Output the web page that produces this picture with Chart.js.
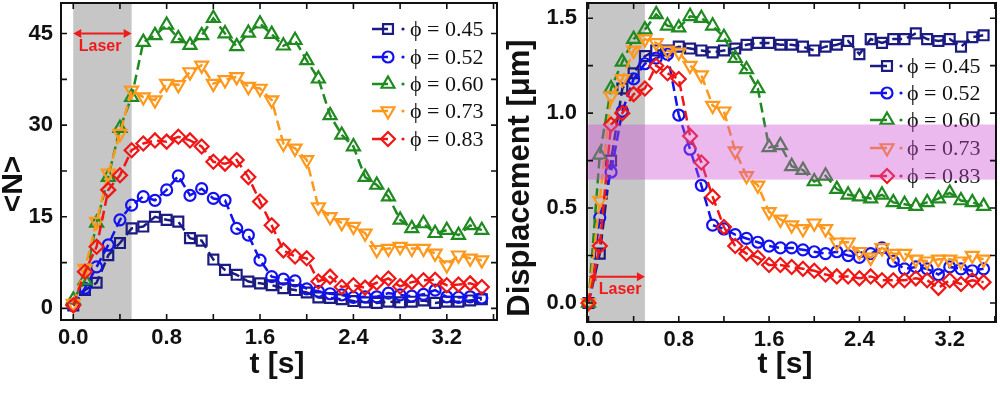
<!DOCTYPE html>
<html>
<head>
<meta charset="utf-8">
<script src="https://cdn.jsdelivr.net/npm/chart.js@4.4.1/dist/chart.umd.min.js"></script>
<style>
  html, body { margin: 0; padding: 0; background: #fff; }
  #wrap { position: relative; width: 1000px; height: 396px; }
  canvas { position: absolute; top: 0; }
  #cN { left: 0; }
  #cD { left: 500px; }
</style>
</head>
<body>
<div id="wrap">
  <canvas id="cN" width="500" height="396"></canvas>
  <canvas id="cD" width="500" height="396"></canvas>
</div>
<script>
// ─── data ────────────────────────────────────────────────────────────────
const TIME = [0.0, 0.1, 0.2, 0.3, 0.4, 0.5, 0.6, 0.7, 0.8, 0.9,
              1.0, 1.1, 1.2, 1.3, 1.4, 1.5, 1.6, 1.7, 1.8, 1.9,
              2.0, 2.1, 2.2, 2.3, 2.4, 2.5, 2.6, 2.7, 2.8, 2.9,
              3.0, 3.1, 3.2, 3.3, 3.4, 3.5];

const PHI_LABELS = ['ϕ = 0.45', 'ϕ = 0.52', 'ϕ = 0.60', 'ϕ = 0.73', 'ϕ = 0.83'];

// <N> vs t
const N_045 = [0.5, 3.0, 4.2, 8.7, 10.7, 13.1, 13.4, 15.0, 14.5, 14.2, 11.5, 11.1, 8.0, 6.3, 5.5, 4.4, 4.1, 3.8,
               3.3, 3.0, 2.6, 1.8, 1.7, 1.5, 1.2, 1.0, 0.9, 1.1, 1.0, 1.1, 1.3, 0.9, 1.1, 1.1, 1.3, 1.5];
const N_052 = [0.5, 3.3, 6.8, 10.4, 14.5, 16.9, 18.3, 17.7, 19.4, 21.7, 18.5, 19.6, 18.0, 17.7, 13.1, 12.0, 7.9, 5.2,
               4.8, 4.5, 3.2, 2.8, 2.4, 2.2, 1.8, 1.9, 1.9, 2.5, 2.2, 2.0, 2.3, 3.0, 1.9, 1.8, 1.9, 1.7];
const N_060 = [1.4, 4.6, 14.0, 21.5, 29.5, 34.6, 43.6, 44.7, 46.4, 44.2, 43.1, 44.7, 47.5, 45.0, 42.9, 45.1, 46.6, 44.9,
               43.0, 43.9, 40.6, 37.6, 31.6, 28.4, 26.5, 21.5, 20.2, 18.3, 14.5, 13.1, 13.9, 12.3, 12.8, 12.0, 13.6, 12.8];
const N_073 = [0.8, 6.5, 14.2, 22.1, 28.6, 35.7, 34.6, 34.1, 36.8, 36.6, 38.7, 39.8, 36.8, 37.4, 37.9, 36.3, 36.0, 34.1,
               27.0, 26.2, 24.3, 16.6, 15.0, 14.0, 13.4, 12.3, 9.6, 9.8, 10.1, 9.8, 9.8, 9.0, 7.1, 8.7, 8.2, 7.9];
const N_083 = [0.5, 6.0, 10.1, 19.4, 21.8, 25.9, 27.0, 27.5, 27.3, 28.1, 27.5, 26.5, 24.0, 23.7, 24.3, 21.5, 17.5, 13.6,
               9.5, 8.5, 8.2, 4.4, 5.2, 3.5, 3.8, 3.4, 4.2, 4.9, 3.6, 4.3, 4.6, 4.7, 3.8, 3.9, 4.1, 3.5];

// Displacement [um] vs t
const D_045 = [0.00, 0.26, 0.75, 1.13, 1.21, 1.30, 1.33, 1.33, 1.35, 1.34, 1.33, 1.32, 1.33, 1.34, 1.36, 1.37, 1.37, 1.36,
               1.36, 1.35, 1.33, 1.35, 1.36, 1.38, 1.31, 1.39, 1.37, 1.39, 1.39, 1.42, 1.39, 1.38, 1.39, 1.35, 1.40, 1.41];
const D_052 = [0.00, 0.45, 0.69, 1.01, 1.18, 1.26, 1.29, 1.31, 0.99, 0.81, 0.62, 0.41, 0.39, 0.36, 0.34, 0.32, 0.30, 0.29,
               0.29, 0.28, 0.27, 0.26, 0.27, 0.25, 0.24, 0.26, 0.29, 0.22, 0.18, 0.19, 0.18, 0.15, 0.19, 0.18, 0.17, 0.18];
const D_060 = [0.00, 0.78, 1.13, 1.27, 1.39, 1.44, 1.52, 1.46, 1.45, 1.51, 1.50, 1.46, 1.40, 1.29, 1.23, 1.13, 0.82, 0.83,
               0.72, 0.70, 0.64, 0.67, 0.60, 0.57, 0.56, 0.55, 0.57, 0.53, 0.52, 0.51, 0.53, 0.55, 0.58, 0.54, 0.53, 0.51];
const D_073 = [0.00, 0.54, 1.09, 1.18, 1.33, 1.39, 1.37, 1.33, 1.32, 1.25, 1.20, 1.04, 1.01, 0.80, 0.67, 0.62, 0.48, 0.44,
               0.41, 0.39, 0.42, 0.39, 0.32, 0.32, 0.27, 0.24, 0.29, 0.26, 0.26, 0.23, 0.22, 0.23, 0.23, 0.22, 0.25, 0.23];
const D_083 = [0.00, 0.30, 0.94, 1.00, 1.10, 1.13, 1.25, 1.21, 1.18, 0.88, 0.74, 0.56, 0.40, 0.30, 0.26, 0.24, 0.20, 0.20,
               0.19, 0.18, 0.17, 0.15, 0.14, 0.14, 0.13, 0.14, 0.12, 0.12, 0.12, 0.13, 0.12, 0.08, 0.12, 0.10, 0.12, 0.11];

const LASER_SPAN = [0.0, 0.5];     // shaded laser window [s]
const BAND_D     = [0.65, 0.94];   // highlighted displacement band [um]

// ─── styles ──────────────────────────────────────────────────────────────
const STYLE = [
  { color: '#1b1b82', pointStyle: 'rect',     radius: 7,   rotation: 0   },
  { color: '#1212ee', pointStyle: 'circle',   radius: 5.5, rotation: 0   },
  { color: '#1f8a1f', pointStyle: 'triangle', radius: 7.5, rotation: 0   },
  { color: '#ff981c', pointStyle: 'triangle', radius: 7.5, rotation: 180 },
  { color: '#f01616', pointStyle: 'rectRot',  radius: 7,   rotation: 0   },
];
const RED   = '#f01a1a';
const SANS  = '"Liberation Sans", Arial, sans-serif';
const SERIF = '"Liberation Serif", "DejaVu Serif", "Times New Roman", serif';

Chart.defaults.font.family = SANS;
Chart.defaults.font.size   = 22;
Chart.defaults.font.weight = 'bold';
Chart.defaults.color       = '#111';
Chart.defaults.plugins.legend.display  = false;
Chart.defaults.plugins.tooltip.enabled = false;

function seriesDS(values, i) {
  const s = STYLE[i];
  return {
    data: values.map((v, k) => ({ x: TIME[k], y: v })),
    borderColor: s.color,
    borderWidth: 2.5,
    borderDash: [10, 5],
    tension: 0,
    fill: false,
    clip: false,
    order: 5 - i,
    pointStyle: s.pointStyle,
    pointRadius: s.radius,
    pointRotation: s.rotation,
    pointBorderColor: s.color,
    pointBorderWidth: 2.2,
    pointBackgroundColor: 'rgba(0,0,0,0)',
  };
}

function drawArrow(ctx, x1, x2, y) {
  const h = 8, w = 4.5;
  ctx.save();
  ctx.strokeStyle = RED; ctx.fillStyle = RED; ctx.lineWidth = 2;
  ctx.beginPath(); ctx.moveTo(x1 + h, y); ctx.lineTo(x2 - h, y); ctx.stroke();
  ctx.beginPath(); ctx.moveTo(x1, y); ctx.lineTo(x1 + h, y - w); ctx.lineTo(x1 + h, y + w); ctx.closePath(); ctx.fill();
  ctx.beginPath(); ctx.moveTo(x2, y); ctx.lineTo(x2 - h, y - w); ctx.lineTo(x2 - h, y + w); ctx.closePath(); ctx.fill();
  ctx.restore();
}

// decorations: laser window, arrow, legend, band, frame, inward ticks, axis titles
function makeDecor(cfg) {
  return {
    id: 'decor',
    beforeDatasetsDraw(chart) {
      const { ctx, chartArea: a, scales: { x } } = chart;
      const x0 = x.getPixelForValue(LASER_SPAN[0]), x1 = x.getPixelForValue(LASER_SPAN[1]);
      ctx.save();
      ctx.fillStyle = '#c6c6c6';
      ctx.fillRect(x0, a.top, x1 - x0, a.bottom - a.top);
      ctx.restore();
    },
    afterDatasetsDraw(chart) {
      const { ctx, chartArea: a, scales: { x, y } } = chart;
      // laser arrow + label
      const ay = y.getPixelForValue(cfg.arrowY);
      const ax0 = x.getPixelForValue(LASER_SPAN[0]), ax1 = x.getPixelForValue(LASER_SPAN[1]);
      drawArrow(ctx, ax0, ax1, ay);
      ctx.save();
      ctx.fillStyle = RED;
      ctx.font = 'bold 16px ' + SANS;
      ctx.textAlign = 'center'; ctx.textBaseline = 'middle';
      ctx.fillText('Laser', x.getPixelForValue(cfg.laserTextX), ay + 13);
      ctx.restore();

      // legend
      const L = cfg.legend;
      ctx.save();
      PHI_LABELS.forEach((lab, i) => {
        const s = STYLE[i], ry = L.rows[i];
        ctx.strokeStyle = s.color; ctx.fillStyle = s.color; ctx.lineWidth = 2.5;
        ctx.beginPath(); ctx.moveTo(L.x0, ry); ctx.lineTo(L.xm, ry); ctx.stroke();
        ctx.beginPath(); ctx.arc(L.xdot, ry, 1.6, 0, Math.PI * 2); ctx.fill();
        ctx.fillStyle = 'rgba(0,0,0,0)'; ctx.lineWidth = 2.2;
        Chart.helpers.drawPoint(ctx, { pointStyle: s.pointStyle, radius: s.radius, rotation: s.rotation, borderWidth: 2.2 }, L.xm, ry);
        ctx.fillStyle = '#111';
        ctx.font = '22px ' + SERIF;
        ctx.textAlign = 'left'; ctx.textBaseline = 'middle';
        ctx.fillText(lab, L.xt, ry + 1);
      });
      ctx.restore();

      // translucent band over everything in the plot
      if (cfg.band) {
        const b0 = y.getPixelForValue(cfg.band[1]), b1 = y.getPixelForValue(cfg.band[0]);
        ctx.save();
        ctx.fillStyle = 'rgba(204, 80, 212, 0.40)';
        ctx.fillRect(a.left, b0, a.right - a.left, b1 - b0);
        ctx.restore();
      }
    },
    afterDraw(chart) {
      const { ctx, chartArea: a, scales: { x, y } } = chart;
      const tl = 6;
      ctx.save();
      ctx.strokeStyle = '#111'; ctx.lineWidth = 2;
      ctx.strokeRect(a.left, a.top, a.right - a.left, a.bottom - a.top);
      ctx.lineWidth = 1.6;
      ctx.beginPath();
      x.ticks.forEach(t => {
        const px = x.getPixelForValue(t.value);
        ctx.moveTo(px, a.bottom); ctx.lineTo(px, a.bottom - tl);
        ctx.moveTo(px, a.top);    ctx.lineTo(px, a.top + tl);
      });
      y.ticks.forEach(t => {
        const py = y.getPixelForValue(t.value);
        ctx.moveTo(a.left, py);  ctx.lineTo(a.left + tl, py);
        ctx.moveTo(a.right, py); ctx.lineTo(a.right - tl, py);
      });
      ctx.stroke();

      // axis titles
      ctx.fillStyle = '#111';
      ctx.textAlign = 'center'; ctx.textBaseline = 'middle';
      ctx.font = 'bold 30px ' + SANS;
      ctx.fillText('t [s]', cfg.xTitle[0], cfg.xTitle[1]);
      ctx.translate(cfg.yTitle[0], cfg.yTitle[1]);
      ctx.rotate(-Math.PI / 2);
      ctx.font = 'bold ' + cfg.yTitleSize + 'px ' + SANS;
      ctx.fillText(cfg.yTitleText, 0, 0);
      ctx.restore();
    },
  };
}

function makePanel(canvasId, series, cfg) {
  const ctx = document.getElementById(canvasId).getContext('2d');
  return new Chart(ctx, {
    type: 'line',
    data: { datasets: series.map((vals, i) => seriesDS(vals, i)) },
    options: {
      responsive: false,
      animation: false,
      events: [],
      devicePixelRatio: 1,
      layout: { padding: cfg.padding, autoPadding: false },
      scales: {
        x: {
          type: 'linear', min: cfg.xRange[0], max: cfg.xRange[1],
          grid: { display: false, drawTicks: false }, border: { display: false },
          ticks: {
            stepSize: 0.4, includeBounds: false, autoSkip: false, maxRotation: 0, padding: 5,
            callback: v => (Math.round(v * 10) % 8 === 0 ? v.toFixed(1) : ''),
          },
          afterFit: s => { s.height = cfg.xAxisH; s.paddingLeft = 0; s.paddingRight = 0; },
        },
        y: {
          type: 'linear', min: cfg.yRange[0], max: cfg.yRange[1],
          grid: { display: false, drawTicks: false }, border: { display: false },
          ticks: {
            stepSize: cfg.yStep, includeBounds: false, autoSkip: false, padding: cfg.yPad,
            callback: cfg.yLabel,
          },
          afterFit: s => { s.width = cfg.yAxisW; s.paddingTop = 0; s.paddingBottom = 0; },
        },
      },
    },
    plugins: [makeDecor(cfg)],
  });
}

makePanel('cN', [N_045, N_052, N_060, N_073, N_083], {
  padding: { top: 3, right: 3, left: 0, bottom: 0 },
  xRange: [-0.105, 3.63], yRange: [-1.9, 50], yStep: 7.5,
  yLabel: v => (v % 15 === 0 ? String(v) : ''),
  xAxisH: 76, yAxisW: 61, yPad: 8,
  arrowY: 45, laserTextX: 0.23,
  legend: { x0: 372, xm: 388, xdot: 403, xt: 410, rows: [29, 57, 84, 111, 139] },
  band: null,
  xTitle: [277, 365], yTitle: [14, 184], yTitleText: '<N>', yTitleSize: 30,
});

makePanel('cD', [D_045, D_052, D_060, D_073, D_083], {
  padding: { top: 3, right: 4, left: 0, bottom: 0 },
  xRange: [-0.013, 3.61], yRange: [-0.1, 1.58], yStep: 0.25,
  yLabel: v => (Math.round(v * 100) % 50 === 0 ? v.toFixed(1) : ''),
  xAxisH: 74, yAxisW: 87, yPad: 10,
  arrowY: 0.138, laserTextX: 0.28,
  legend: { x0: 370, xm: 387, xdot: 401, xt: 407, rows: [66, 93, 120, 148, 176] },
  band: BAND_D,
  xTitle: [285, 365], yTitle: [20, 178], yTitleText: 'Displacement [μm]', yTitleSize: 31,
});
</script>
</body>
</html>
